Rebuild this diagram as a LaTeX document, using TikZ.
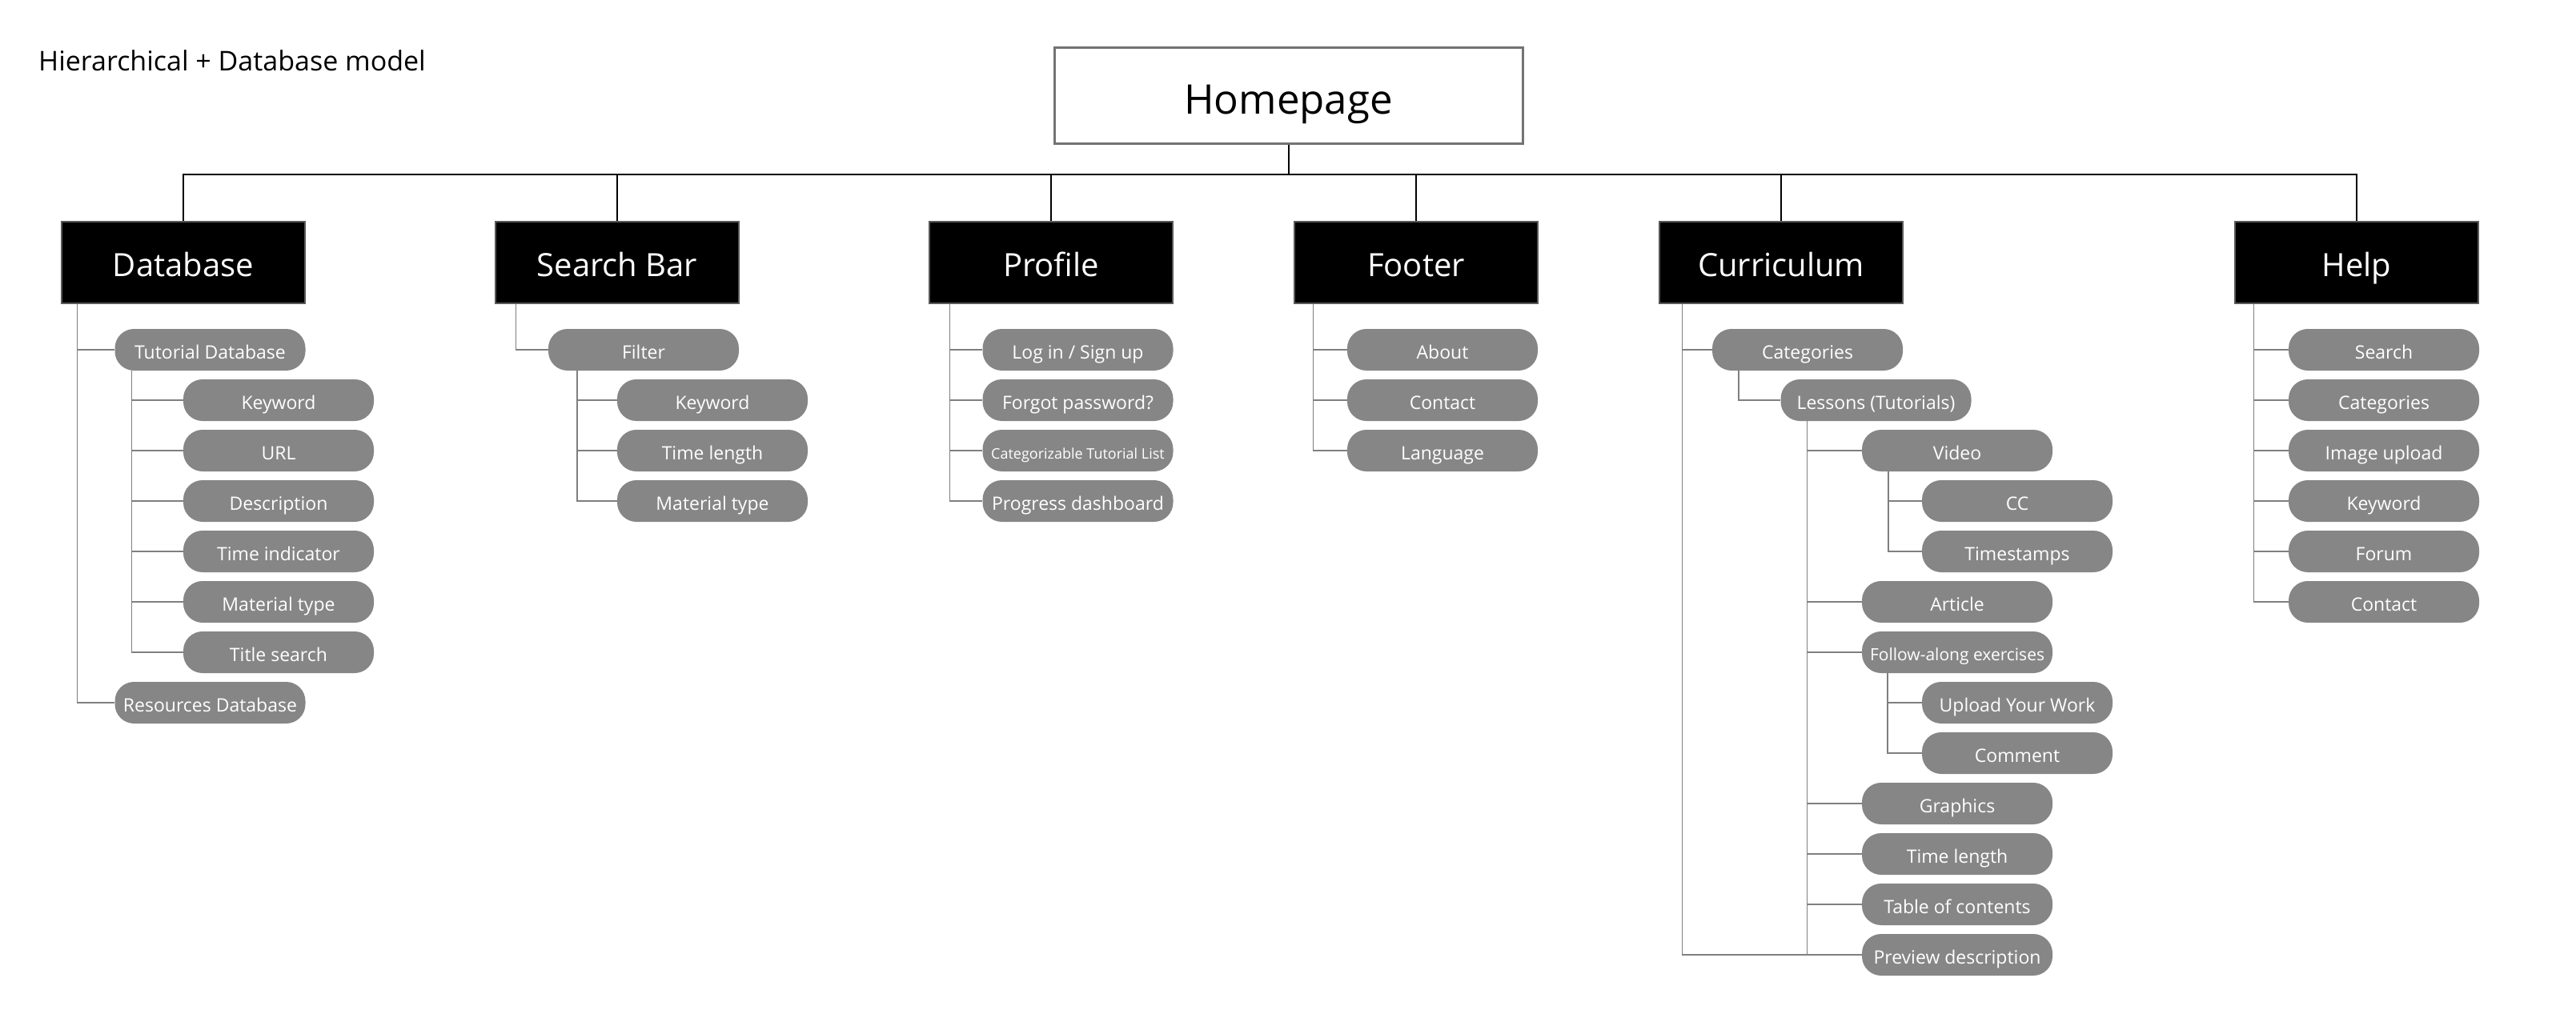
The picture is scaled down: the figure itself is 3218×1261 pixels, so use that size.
\documentclass[tikz,border=0pt]{standalone}
\usepackage{fontspec}
\setmainfont{Open Sans}
\definecolor{pillgray}{HTML}{868686}
\definecolor{linegray}{HTML}{7F7F7F}
\definecolor{boxborder}{HTML}{595959}
\definecolor{homeborder}{HTML}{737373}
\begin{document}
\begin{tikzpicture}[x=1pt,y=-1pt,
  pill/.style={fill=pillgray, text=white, rounded corners=24pt, minimum width=238pt,
    minimum height=52pt, inner sep=0pt, font=\fontsize{23}{26}\selectfont,
    text height=22pt, text depth=0pt},
  smallpill/.style={pill, font=\fontsize{18}{20}\selectfont, text height=20pt},
  midpill/.style={pill, font=\fontsize{21}{24}\selectfont, text height=21pt},
  topbox/.style={fill=black, draw=boxborder, line width=1.5pt, text=white,
    minimum width=304pt, minimum height=102pt, inner sep=0pt,
    font=\fontsize{40}{44}\selectfont, text height=34pt, text depth=0pt},
  homebox/.style={fill=white, draw=homeborder, line width=3pt, text=black,
    minimum width=585pt, minimum height=120pt, inner sep=0pt,
    font=\fontsize{51}{56}\selectfont, text height=46pt, text depth=0pt},
  sub/.style={draw=linegray, line width=1.5pt},
  busline/.style={draw=black, line width=2pt}
]
\fill[white] (0,0) rectangle (3218,1261);
\useasboundingbox (0,0) rectangle (3218,1261);

\node[anchor=base west, font=\fontsize{34}{38}\selectfont, inner sep=0pt] (title) at (48,88) {Hierarchical + Database model};

\node[homebox] (home) at (1609.5,119) {Homepage};

\node[topbox] (db)   at (229,328)  {Database};
\node[topbox] (sb)   at (771,328)  {Search Bar};
\node[topbox] (prof) at (1313,328) {Profile};
\node[topbox] (foot) at (1769,328) {Footer};
\node[topbox] (cur)  at (2225,328) {Curriculum};
\node[topbox] (help) at (2944,328) {Help};

\coordinate (bus) at (0,218);
\draw[busline] (home.south) -- (home.south |- bus);
\draw[busline] (db.north) |- (help.north |- bus) -- (help.north);
\foreach \b in {sb,prof,foot,cur} \draw[busline] (\b.north) -- (\b.north |- bus);

% Database branch
\node[pill] (tut) at (262.5,437) {Tutorial Database};
\node[pill] (dbk) at (348,500) {Keyword};
\node[pill] (dbu) at (348,563) {URL};
\node[pill] (dbd) at (348,626) {Description};
\node[pill] (dbt) at (348,689) {Time indicator};
\node[pill] (dbm) at (348,752) {Material type};
\node[pill] (dbs) at (348,815) {Title search};
\node[pill] (res) at (262.5,878) {Resources Database};
\draw[sub] ([xshift=20pt]db.south west) |- (tut.west);
\draw[sub] ([xshift=20pt]db.south west) |- (res.west);
\foreach \c in {dbk,dbu,dbd,dbt,dbm,dbs} \draw[sub] ([xshift=21pt]tut.south west) |- (\c.west);

% Search bar branch
\node[pill] (fil) at (804,437) {Filter};
\node[pill] (sbk) at (890,500) {Keyword};
\node[pill] (sbt) at (890,563) {Time length};
\node[pill] (sbm) at (890,626) {Material type};
\draw[sub] ([xshift=26pt]sb.south west) |- (fil.west);
\foreach \c in {sbk,sbt,sbm} \draw[sub] ([xshift=36pt]fil.south west) |- (\c.west);

% Profile branch
\node[pill] (pl) at (1346.5,437) {Log in / Sign up};
\node[pill] (pf) at (1346.5,500) {Forgot password?};
\node[smallpill] (pc) at (1346.5,563) {Categorizable Tutorial List};
\node[pill] (pd) at (1346.5,626) {Progress dashboard};
\foreach \c in {pl,pf,pc,pd} \draw[sub] ([xshift=26pt]prof.south west) |- (\c.west);

% Footer branch
\node[pill] (fa) at (1802,437) {About};
\node[pill] (fc) at (1802,500) {Contact};
\node[pill] (fl) at (1802,563) {Language};
\foreach \c in {fa,fc,fl} \draw[sub] ([xshift=24pt]foot.south west) |- (\c.west);

% Curriculum branch
\node[pill] (cat) at (2258,437) {Categories};
\node[pill] (les) at (2343.5,500) {Lessons (Tutorials)};
\node[pill] (vid) at (2445,563) {Video};
\node[pill] (cc)  at (2520,626) {CC};
\node[pill] (ts)  at (2520,689) {Timestamps};
\node[pill] (art) at (2445,752) {Article};
\node[midpill] (fol) at (2445,815) {Follow-along exercises};
\node[pill] (upl) at (2520,878) {Upload Your Work};
\node[pill] (com) at (2520,941) {Comment};
\node[pill] (gra) at (2445,1004) {Graphics};
\node[pill] (tl)  at (2445,1067) {Time length};
\node[pill] (toc) at (2445,1130) {Table of contents};
\node[pill] (pre) at (2445,1193) {Preview description};
\draw[sub] ([xshift=29pt]cur.south west) |- (cat.west);
\draw[sub] ([xshift=29pt]cur.south west) |- (pre.west);
\draw[sub] ([xshift=33pt]cat.south west) |- (les.west);
\foreach \c in {vid,art,fol,gra,tl,toc,pre} \draw[sub] ([xshift=33pt]les.south west) |- (\c.west);
\foreach \c in {cc,ts} \draw[sub] ([xshift=33pt]vid.south west) |- (\c.west);
\foreach \c in {upl,com} \draw[sub] ([xshift=32pt]fol.south west) |- (\c.west);

% Help branch
\node[pill] (hs)  at (2978,437) {Search};
\node[pill] (hc)  at (2978,500) {Categories};
\node[pill] (hi)  at (2978,563) {Image upload};
\node[pill] (hk)  at (2978,626) {Keyword};
\node[pill] (hf)  at (2978,689) {Forum};
\node[pill] (hco) at (2978,752) {Contact};
\foreach \c in {hs,hc,hi,hk,hf,hco} \draw[sub] ([xshift=24pt]help.south west) |- (\c.west);
\end{tikzpicture}
\end{document}
